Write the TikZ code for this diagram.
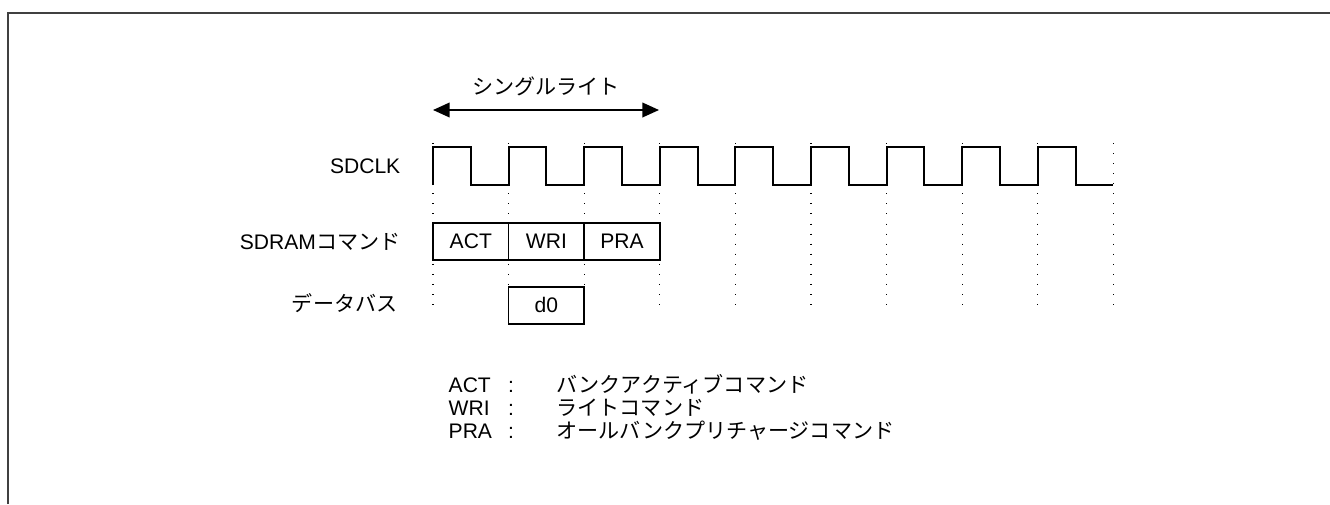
\documentclass[tikz,border=0pt]{standalone}
\usepackage{fontspec}
\setmainfont{Liberation Sans}
\newfontfamily\jp{Noto Sans CJK JP}
\usepackage{tikz}
\usetikzlibrary{arrows.meta}
\usetikzlibrary{positioning}
\tikzset{cmdbox/.style={draw,line width=1.3pt,minimum width=56.7pt,minimum height=27.8pt,inner sep=0,outer sep=0},
 tick/.style={black,line width=1pt,dash pattern=on 0.75pt off 6.8pt},
 wave/.style={black,line width=1.4pt,line join=miter}}

\begin{document}
\begin{tikzpicture}[x=0.75pt,y=-0.75pt,font=\fontsize{15.8}{19}\selectfont]
\useasboundingbox (0,0) rectangle (1330,504);
\draw[black!75,line width=1.5pt] (7.5,504)--(7.5,13)--(1330,13);
\foreach \k in {0,...,9} {
 \draw[tick] (433+75.6*\k,143)--(433+75.6*\k,306);
}
\draw[wave] (433,185) \foreach \k in {0,...,8} { --++(0,-38) --++(37.8,0) --++(0,38) --++(37.8,0) };
\coordinate (sw1) at (433,110);
\coordinate (sw2) at (659,110);
\draw[black,line width=1.3pt,{Triangle[length=12.5pt,width=11pt]}-{Triangle[length=12.5pt,width=11pt]}] (sw1)--(sw2);
\node (single) at (546,86) {\jp シングルライト};
\node[anchor=east] (sdclk) at (405,166) {SDCLK};
\node[anchor=east] (sdcmd) at (405,241.5) {SDRAM{\jp コマンド}};
\node[anchor=east] (dbus) at (402,303) {\jp データバス};
\node[cmdbox] (act) at (470.8,241.5) {ACT};
\node[cmdbox,right=0pt of act] (wri) {WRI};
\node[cmdbox,right=0pt of wri] (pra) {PRA};
\node[cmdbox,below=20pt of wri,fill=white] (d0) {d0};
\node[anchor=base west] (lact) at (444,392.5) {ACT};
\node[anchor=base west] (lwri) at (444,415.5) {WRI};
\node[anchor=base west] (lpra) at (444,438.5) {PRA};
\foreach \y in {392.5,415.5,438.5} {
 \node[anchor=base] at (511,\y) {:};
}
\node[anchor=base west] (tact) at (552,392.5) {\jp バンクアクティブコマンド};
\node[anchor=base west] (twri) at (552,415.5) {\jp ライトコマンド};
\node[anchor=base west] (tpra) at (552,438.5) {\jp オールバンクプリチャージコマンド};
\end{tikzpicture}
\end{document}
